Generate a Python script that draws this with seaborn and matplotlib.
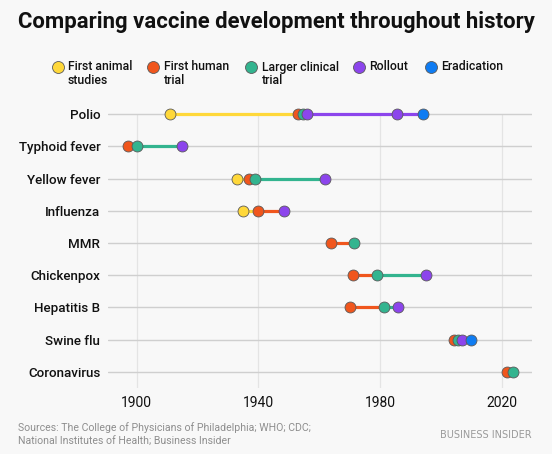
import numpy as np
import pandas as pd
import matplotlib.pyplot as plt
import seaborn as sns

# years; None = stage not shown
vaccines = ["Polio", "Typhoid fever", "Yellow fever", "Influenza", "MMR",
            "Chickenpox", "Hepatitis B", "Swine flu", "Coronavirus"]
animal = [1911, None, 1933, 1935, None, None, None, None, None]
human = [1953, 1897, 1937, 1940, 1964, 1971, 1970, 2004.5, 2021.7]
larger = [1954.5, 1900, 1939, None, 1971.6, 1979, 1981.3, 2005.8, 2023.7]
rollout = [1956, 1915, 1962, 1948.4, None, 1995, 1986, 2007, None]
rollout_later = [1985.5, None, None, None, None, None, None, None, None]
eradication = [1994, None, None, None, None, None, None, 2010, None]

stages = ["First animal\nstudies", "First human\ntrial", "Larger clinical\ntrial",
          "Rollout", "Eradication"]
stage_colors = ["#FFD83A", "#F0561D", "#33B48F", "#8C45EC", "#0F7CF2"]
year_ticks = [1900, 1940, 1980, 2020]

# long-form table: one row per dot, in drawing order
rows = []
for i, name in enumerate(vaccines):
    points = [(animal[i], 0), (human[i], 1), (larger[i], 2), (rollout[i], 3),
              (rollout_later[i], 3), (eradication[i], 4)]
    for year, s in points:
        if year is not None:
            rows.append({"vaccine": name, "row": i, "year": year, "stage": s})
df = pd.DataFrame(rows)

sns.set_style("white")
plt.rcParams["font.family"] = ["Roboto", "DejaVu Sans"]

bg = "#F8F8F8"
fig = plt.figure(figsize=(5.52, 4.54), dpi=100, facecolor=bg)
ax = fig.add_axes([108 / 552, 1 - 388 / 454, 424 / 552, 290 / 454])
ax.set_facecolor(bg)

ax.set_xlim(1890.5, 2030)
ax.set_ylim(8.5, -0.5)

# vertical gridlines start at the top row
ax.vlines(year_ticks, 0, 8.5, color="#E4E4E4", lw=0.9, zorder=0)
for i in range(len(vaccines)):
    ax.axhline(i, color="#CFCFCF", lw=1.0, zorder=1)

# connecting segments, coloured by the stage they start from
for name, g in df.groupby("vaccine", sort=False):
    g = g.sort_values("year")
    ys = g["year"].to_numpy()
    st = g["stage"].to_numpy()
    r = g["row"].iloc[0]
    for k in range(len(ys) - 1):
        ax.plot([ys[k], ys[k + 1]], [r, r], color=stage_colors[st[k]],
                lw=2.3, solid_capstyle="butt", zorder=2)

for s in range(len(stages)):
    sub = df[df["stage"] == s]
    sns.scatterplot(data=sub, x="year", y="row", color=stage_colors[s], s=62,
                    edgecolor="#5A5A5A", linewidth=0.6, zorder=3 + s,
                    ax=ax, legend=False, clip_on=False)

ax.set_xticks(year_ticks)
ax.set_xticklabels([str(t) for t in year_ticks], fontsize=10, color="#111111")
ax.set_yticks(range(len(vaccines)))
ax.set_yticklabels(vaccines, fontsize=9.6, fontweight="medium", color="#111111")
ax.tick_params(axis="both", length=0)
ax.tick_params(axis="y", pad=5.5)
ax.tick_params(axis="x", pad=6)
ax.set_xlabel("")
ax.set_ylabel("")
sns.despine(ax=ax, left=True, bottom=True)

fig.text(0.5, 1 - 22 / 454, "Comparing vaccine development throughout history",
         ha="center", va="center", fontsize=15.9, fontweight="bold", color="#111111")

# legend drawn by hand so markers sit on the first text line
leg_x = [57.5, 153, 251, 359, 431]
for s, label in enumerate(stages):
    fig.lines.append(plt.Line2D([leg_x[s] / 552], [1 - 66.7 / 454], marker="o",
                                markersize=8.6, markerfacecolor=stage_colors[s],
                                markeredgecolor="#5A5A5A", markeredgewidth=0.6,
                                transform=fig.transFigure))
    fig.text((leg_x[s] + 10.5) / 552, 1 - 60.5 / 454, label, ha="left", va="top",
             fontsize=8.8, fontweight="medium", color="#111111", linespacing=1.05)

fig.text(18 / 552, 1 - 434.5 / 454,
         "Sources: The College of Physicians of Philadelphia; WHO; CDC;\n"
         "National Institutes of Health; Business Insider",
         ha="left", va="center", fontsize=7.6, color="#8E8E8E", linespacing=1.45)
fig.text(532 / 552, 1 - 434.5 / 454, "BUSINESS INSIDER", ha="right", va="center",
         fontsize=7, color="#9A9A9A", family="DejaVu Sans")

fig.savefig("out.png", dpi=100, facecolor=bg)
